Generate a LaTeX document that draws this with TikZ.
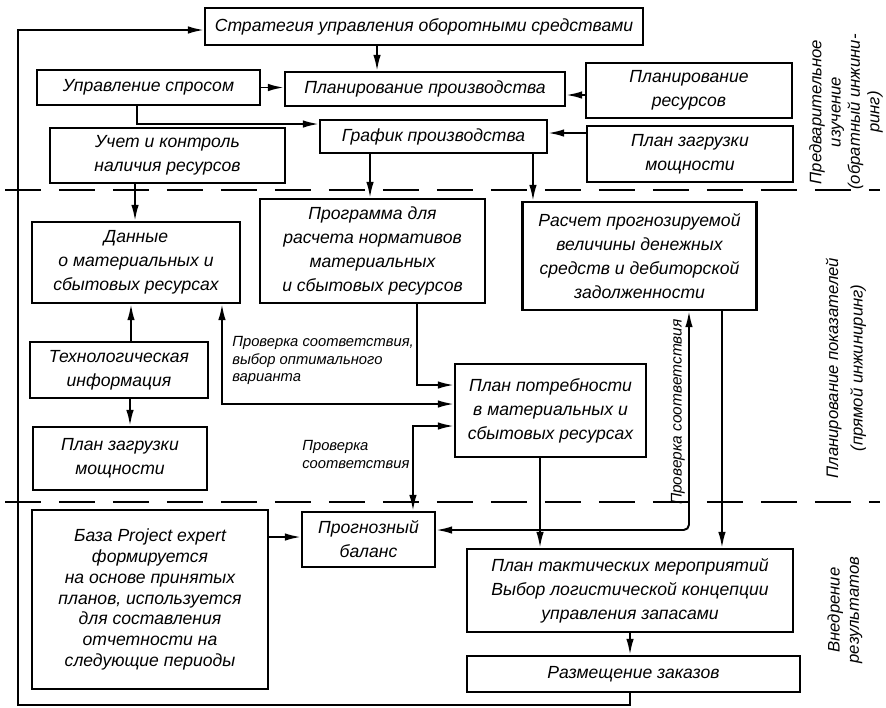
\documentclass[tikz,border=0pt]{standalone}
\usepackage{fontspec}
\setmainfont{Liberation Sans}
\usepackage{tikz}
\usetikzlibrary{arrows.meta}

\begin{document}
\begin{tikzpicture}[
    x=0.02cm, y=-0.02cm,
    font=\itshape\fontsize{10}{13.6}\selectfont,
    box/.style={draw=black, line width=1.3pt, align=center, inner sep=2pt},
    arrow/.style={-{Latex[length=3.2mm,width=1.5mm]}, line width=1.1pt},
    biarrow/.style={{Latex[length=3.2mm,width=1.5mm]}-{Latex[length=3.2mm,width=1.5mm]}, line width=1.1pt},
    sep/.style={line width=1pt, dash pattern=on 0.72cm off 0.36cm},
    note/.style={font=\itshape\fontsize{8.4}{10}\selectfont, align=left, inner sep=0pt},
    phase/.style={rotate=90, align=center, font=\itshape\fontsize{9.5}{11}\selectfont}
]
\useasboundingbox (0,0) rectangle (886,707);

% stage 1
\node[box, minimum width=8.76cm, minimum height=0.74cm] (strat) at (424,26.5) {Стратегия управления оборотными средствами};
\node[box, minimum width=4.46cm, minimum height=0.7cm] (spros) at (148.5,87.5) {Управление спросом};
\node[box, minimum width=5.6cm, minimum height=0.68cm] (planpr) at (425,89) {Планирование производства};
\node[box, minimum width=4.12cm, minimum height=1.1cm] (planres) at (689,90.5) {Планирование\\ресурсов};
\node[box, minimum width=4.54cm, minimum height=0.66cm] (grafik) at (433.5,136.5) {График производства};
\node[box, minimum width=4.12cm, minimum height=1.12cm] (zagr1) at (690,154) {План загрузки\\мощности};
\node[box, minimum width=4.7cm, minimum height=1.1cm] (uchet) at (167.5,155.5) {Учет и контроль\\наличия ресурсов};

% stage 2
\node[box, minimum width=4.16cm, minimum height=1.62cm] (dannye) at (136,262.5) {Данные\\о материальных и\\сбытовых ресурсах};
\node[box, minimum width=4.5cm, minimum height=2.08cm] (progr) at (372.5,251) {Программа для\\расчета нормативов\\материальных\\и сбытовых ресурсов};
\node[box, minimum width=4.68cm, minimum height=2.16cm] (raschet) at (639.5,256) {Расчет прогнозируемой\\величины денежных\\средств и дебиторской\\задолженности};
\node[box, minimum width=3.56cm, minimum height=1.12cm] (techn) at (119,370) {Технологическая\\информация};
\node[box, minimum width=3.48cm, minimum height=1.26cm] (zagr2) at (120,458.5) {План загрузки\\мощности};
\node[box, minimum width=3.82cm, minimum height=1.86cm] (potreb) at (550.5,410.5) {План потребности\\в материальных и\\сбытовых ресурсах};

% stage 3
\node[box, minimum width=4.72cm, minimum height=3.58cm, font=\itshape\fontsize{10}{11.8}\selectfont] (baza) at (150,599.5) {База Project expert\\формируется\\на основе принятых\\планов, используется\\для составления\\отчетности на\\следующие периоды};
\node[box, minimum width=2.66cm, minimum height=1.1cm] (prognoz) at (368.5,539.5) {Прогнозный\\баланс};
\node[box, minimum width=6.52cm, minimum height=1.66cm] (taktik) at (630,590.5) {План тактических мероприятий\\Выбор логистической концепции\\управления запасами};
\node[box, minimum width=6.66cm, minimum height=0.72cm] (razm) at (633.5,674) {Размещение заказов};

% labels
\node[note, anchor=north west] (chk1) at (232,336) {Проверка соответствия,\\выбор оптимального\\варианта};
\node[note, anchor=north west] (chk2) at (302,440) {Проверка\\соответствия};
\node[note, rotate=90, font=\itshape\fontsize{8.8}{10}\selectfont] (chk3) at (678,412) {Проверка соответствия};
\node[phase] (ph1) at (846,112) {Предварительное\\изучение\\(обратный инжини-\\ринг)};
\node[phase, font=\itshape\fontsize{9.5}{14}\selectfont] (ph2) at (846,368) {Планирование показателей\\(прямой инжиниринг)};
\node[phase] (ph3) at (845,610) {Внедрение\\результатов};

% connectors
\draw[arrow] ([xshift=-0.94cm]strat.south) -- ([xshift=-0.94cm]strat.south |- planpr.north);
\draw[arrow] (spros.east) -- (spros.east -| planpr.west);
\draw[arrow] ([yshift=-0.09cm]planres.west) -- ([yshift=-0.09cm]planres.west -| planpr.east);
\draw[arrow] ([xshift=-0.23cm]spros.south) |- ([yshift=0.25cm]grafik.west);
\draw[arrow] ([yshift=0.07cm]grafik.east -| zagr1.west) -- ([yshift=0.07cm]grafik.east);
\draw[arrow] ([xshift=-0.65cm]uchet.south) -- ([xshift=-0.65cm]uchet.south |- dannye.north);
\draw[arrow] ([xshift=-1.27cm]grafik.south) -- ([xshift=-1.27cm]grafik.south |- progr.north);
\draw[arrow] ([xshift=1.99cm]grafik.south) -- ([xshift=1.99cm]grafik.south |- raschet.north);
\draw[arrow] ([xshift=0.24cm]techn.north) -- ([xshift=0.24cm]techn.north |- dannye.south);
\draw[arrow] ([xshift=0.22cm]techn.south) -- ([xshift=0.22cm]techn.south |- zagr2.north);
\draw[biarrow] ([xshift=1.72cm]dannye.south) |- ([yshift=0.13cm]potreb.west);
\draw[arrow] ([xshift=0.89cm]progr.south) |- ([yshift=0.51cm]potreb.west);
\draw[biarrow] ([yshift=-0.31cm]potreb.west) -| ([xshift=0.89cm]prognoz.north);
\draw[arrow] ([xshift=-0.21cm]potreb.south) -- ([xshift=-0.21cm]potreb.south |- taktik.north);
\draw[biarrow, rounded corners=3pt] ([xshift=0.99cm]raschet.south) |- ([yshift=0.19cm]prognoz.east);
\draw[arrow] ([xshift=1.65cm]raschet.south) -- ([xshift=1.65cm]raschet.south |- taktik.north);
\draw[arrow] ([yshift=0.05cm]prognoz.west -| baza.east) -- ([yshift=0.05cm]prognoz.west);
\draw[arrow] (taktik.south) -- (taktik.south |- razm.north);
\coordinate (loopbl) at (18,705);
\draw[arrow] ([xshift=-0.07cm]razm.south) |- (loopbl) |- ([yshift=-0.07cm]strat.west);

% stage borders
\draw[sep] (5,190) -- (880,190);
\draw[sep] (5,502) -- (880,502);
\end{tikzpicture}
\end{document}
